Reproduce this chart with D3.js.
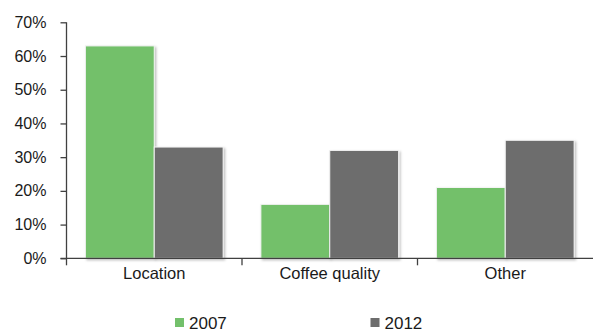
<!DOCTYPE html>
<html>
<head>
<meta charset="utf-8">
<script src="https://cdn.jsdelivr.net/npm/d3@7"></script>
<style>
  body { margin: 0; background: #fff; }
  text { font-family: "Liberation Sans", Arial, sans-serif; fill: #1a1a1a; }
</style>
</head>
<body>
<div id="chart-area"></div>
<script>
var categories = ["Location", "Coffee quality", "Other"];
var seriesNames = ["2007", "2012"];
var values2007 = [0.63, 0.16, 0.21];
var values2012 = [0.33, 0.32, 0.35];
var yTicks = [0, 0.1, 0.2, 0.3, 0.4, 0.5, 0.6, 0.7];
var colors = ["#73c06b", "#6d6d6d"];

var data = categories.map(function(c, i) {
    return { cat: c, vals: [values2007[i], values2012[i]] };
});

var margin = { top: 22.3, bottom: 72.7, left: 66.5, right: 0 };
var width  = 593 - margin.left - margin.right;
var height = 331 - margin.top - margin.bottom;

var svg = d3.select("#chart-area")
    .append("svg")
        .attr("width", 593)
        .attr("height", 331);

var defs = svg.append("defs");
var f = defs.append("filter").attr("id", "shadow")
    .attr("x", "-10%").attr("y", "-10%").attr("width", "130%").attr("height", "130%");
f.append("feDropShadow")
    .attr("dx", 1.5).attr("dy", 1.5).attr("stdDeviation", 1.2)
    .attr("flood-color", "#000").attr("flood-opacity", 0.25);

var g = svg.append("g")
    .attr("transform", "translate(" + margin.left + ", " + margin.top + ")");

var y = d3.scaleLinear().domain([0, 0.7]).range([height, 0]);

var x0 = d3.scaleBand()
    .domain(categories)
    .range([0, width])
    .paddingInner(0.215)
    .paddingOuter(0.1075);

var x1 = d3.scaleBand()
    .domain(seriesNames)
    .range([0, x0.bandwidth()]);

// gridlines
g.append("g")
    .selectAll("line")
    .data(yTicks.slice(1))
    .enter()
    .append("line")
        .attr("x1", 0)
        .attr("x2", width)
        .attr("y1", function(d) { return y(d); })
        .attr("y2", function(d) { return y(d); })
        .attr("stroke", "#d9d9d9")
        .attr("stroke-width", 1.5)
        .attr("filter", "url(#shadow)");

// bars
var groups = g.selectAll(".grp")
    .data(data)
    .enter()
    .append("g")
        .attr("class", "grp")
        .attr("transform", function(d) { return "translate(" + x0(d.cat) + ",0)"; });

groups.selectAll("rect")
    .data(function(d) { return d.vals.map(function(v, i) { return { s: seriesNames[i], v: v, i: i }; }); })
    .enter()
    .append("rect")
        .attr("x", function(d) { return x1(d.s); })
        .attr("y", function(d) { return y(d.v); })
        .attr("width", x1.bandwidth())
        .attr("height", function(d) { return height - y(d.v); })
        .attr("fill", function(d) { return colors[d.i]; })
        .attr("stroke", "#f4f4f4")
        .attr("stroke-width", 1)
        .attr("filter", "url(#shadow)");

// y axis
var yAxisCall = d3.axisLeft(y)
    .tickValues(yTicks)
    .tickSize(6)
    .tickPadding(14)
    .tickFormat(function(d) { return Math.round(d * 100) + "%"; });

var yAx = g.append("g").attr("class", "y-axis").call(yAxisCall);
yAx.select(".domain").attr("d", "M0," + (height + 7) + "V0").attr("stroke", "#404040").attr("stroke-width", 1.3);
yAx.selectAll(".tick line").attr("stroke", "#404040").attr("stroke-width", 1.3);
yAx.selectAll("text").attr("font-size", "16px").attr("fill", "#1a1a1a");

// x axis
var xAx = g.append("g")
    .attr("class", "x-axis")
    .attr("transform", "translate(0, " + height + ")");
xAx.append("line")
    .attr("x1", -6).attr("x2", width)
    .attr("stroke", "#404040").attr("stroke-width", 1.3);
xAx.selectAll(".sep")
    .data(categories.slice(1))
    .enter()
    .append("line")
        .attr("class", "sep")
        .attr("x1", function(d) { return x0(d) - x0.step() * x0.paddingInner() / 2; })
        .attr("x2", function(d) { return x0(d) - x0.step() * x0.paddingInner() / 2; })
        .attr("y1", 0).attr("y2", 7)
        .attr("stroke", "#404040").attr("stroke-width", 1.3);
xAx.selectAll(".cat")
    .data(categories)
    .enter()
    .append("text")
        .attr("class", "cat")
        .attr("x", function(d) { return x0(d) + x0.bandwidth() / 2; })
        .attr("y", 21)
        .attr("text-anchor", "middle")
        .attr("font-size", "16.5px")
        .text(function(d) { return d; });

// legend
var legendX = [175, 370.5];
var legend = svg.selectAll(".legend")
    .data(seriesNames)
    .enter()
    .append("g")
        .attr("class", "legend")
        .attr("transform", function(d, i) { return "translate(" + legendX[i] + ", 318)"; });
legend.append("rect")
    .attr("width", 9).attr("height", 9)
    .attr("fill", function(d, i) { return colors[i]; });
legend.append("text")
    .attr("x", 14).attr("y", 11)
    .attr("font-size", "17px")
    .text(function(d) { return d; });
</script>
</body>
</html>
